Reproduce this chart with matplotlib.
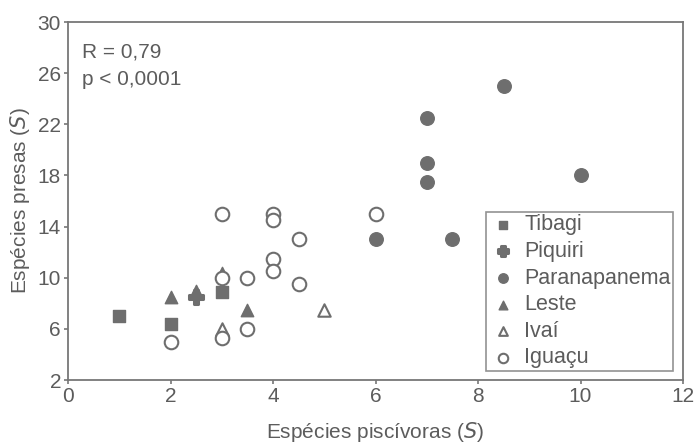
import matplotlib
matplotlib.use("Agg")
import matplotlib.pyplot as plt

plt.rcParams['font.family'] = ['Liberation Sans', 'DejaVu Sans']

GRAY = '#6e6e6e'
TXT = '#5c5c5c'

tibagi_x = [1, 2, 3]
tibagi_y = [7, 6.4, 8.9]
piquiri_x = [2.5]
piquiri_y = [8.5]
parana_x = [6, 7, 7, 7, 7.5, 8.5, 10]
parana_y = [13, 17.5, 19, 22.5, 13, 25, 18]
leste_x = [2, 2.5, 3, 3.5]
leste_y = [8.5, 9, 10.4, 7.5]
ivai_x = [3, 5]
ivai_y = [6, 7.5]
iguacu_x = [2, 3, 3, 3, 3.5, 3.5, 4, 4, 4, 4, 4.5, 4.5, 6]
iguacu_y = [5, 15, 10, 5.3, 10, 6, 15, 14.5, 11.5, 10.5, 13, 9.5, 15]

xticks = [0, 2, 4, 6, 8, 10, 12]
yticks = [2, 6, 10, 14, 18, 22, 26, 30]

fig = plt.figure(figsize=(6.98, 4.47), dpi=100)
ax = fig.add_axes([68/698, 1-380/447, (683-68)/698, (380-22)/447])

h_leste = ax.scatter(leste_x, leste_y, marker='^', s=80, color=GRAY, zorder=2, label='Leste')
h_tib = ax.scatter(tibagi_x, tibagi_y, marker='s', s=75, color=GRAY, zorder=3, label='Tibagi')
h_ivai = ax.scatter(ivai_x, ivai_y, marker='^', s=80, facecolor='white', edgecolor=GRAY,
                    linewidth=1.5, zorder=3, label='Ivaí')
h_piq = ax.scatter(piquiri_x, piquiri_y, marker='P', s=95, color=GRAY, edgecolor=GRAY,
                   linewidth=2.2, zorder=4, label='Piquiri')
h_par = ax.scatter(parana_x, parana_y, marker='o', s=95, color=GRAY, zorder=4, label='Paranapanema')
h_igu = ax.scatter(iguacu_x, iguacu_y, marker='o', s=95, facecolor='white', edgecolor=GRAY,
                   linewidth=1.5, zorder=5, label='Iguaçu')

ax.set_xlim(0, 12)
ax.set_ylim(2, 30)
ax.set_xticks(xticks)
ax.set_yticks(yticks)

for sp in ax.spines.values():
    sp.set_color('#777777')
    sp.set_linewidth(1.3)

ax.tick_params(axis='both', direction='out', length=3, width=1.2, color='#777777',
               labelsize=15, labelcolor=TXT, pad=2)

ax.set_xlabel('Espécies piscívoras ($\\it{S}$)', fontsize=15, color=TXT, labelpad=10)
ax.set_ylabel('Espécies presas ($\\it{S}$)', fontsize=15, color=TXT, labelpad=4)

ax.text(0.023, 0.915, 'R = 0,79', transform=ax.transAxes, fontsize=15, color=TXT, va='center')
ax.text(0.023, 0.84, 'p < 0,0001', transform=ax.transAxes, fontsize=15, color=TXT, va='center')

leg = ax.legend(handles=[h_tib, h_piq, h_par, h_leste, h_ivai, h_igu],
                loc='lower right', bbox_to_anchor=(673/698, 1-371/447),
                bbox_transform=fig.transFigure, fontsize=15.5, labelcolor=TXT,
                markerscale=0.7, frameon=True, fancybox=False,
                handletextpad=0.35, labelspacing=0.26, borderpad=0.12,
                handlelength=1.3, borderaxespad=0)
leg.get_frame().set_edgecolor('#777777')
leg.get_frame().set_linewidth(1.2)

fig.savefig('out.png', dpi=100)
